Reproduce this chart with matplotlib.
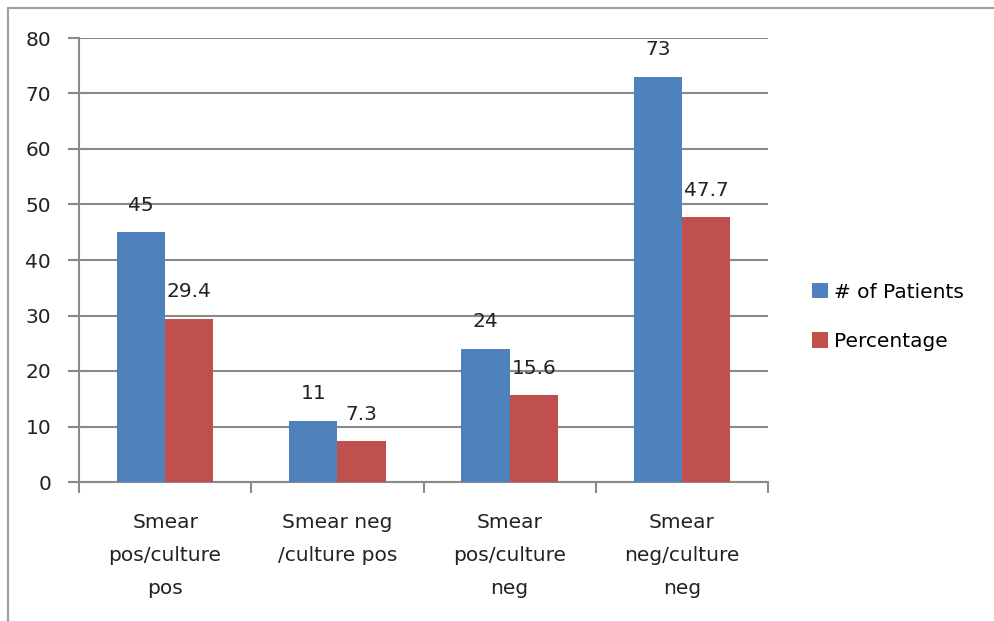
import matplotlib.pyplot as plt
import numpy as np
from matplotlib.patches import Rectangle

# Smear / culture results
categories = ["Smear\npos/culture\npos", "Smear neg\n/culture pos",
              "Smear\npos/culture\nneg", "Smear\nneg/culture\nneg"]
patients = [45, 11, 24, 73]
percentage = [29.4, 7.3, 15.6, 47.7]

blue = "#4F81BD"
red = "#C0504D"
grid_col = "#8A8A8A"
txt_col = "#222222"
fs = 14.5

plt.rcParams['font.family'] = ['DejaVu Sans']

fig = plt.figure(figsize=(9.94, 6.21), dpi=100)
ax = fig.add_axes([79 / 994, 1 - 482 / 621, (768 - 79) / 994, (482 - 38) / 621])

# outer chart frame (only top and left edges fall inside the image)
fig.patches.append(Rectangle((8 / 994, -0.01), 1.05, 1 - 8 / 621 + 0.01,
                             transform=fig.transFigure, fill=False,
                             edgecolor="#A0A0A0", linewidth=1.5))

x = np.arange(len(categories))
w = 0.28
b1 = ax.bar(x - w / 2, patients, w, color=blue, label="# of Patients", zorder=3)
b2 = ax.bar(x + w / 2, percentage, w, color=red, label="Percentage", zorder=3)

for bars, vals in [(b1, patients), (b2, percentage)]:
    for bar, v in zip(bars, vals):
        ax.text(bar.get_x() + bar.get_width() / 2, v + 4.9, f"{v:g}",
                ha="center", va="center", fontsize=fs, color=txt_col)

ax.set_xlim(-0.5, 3.5)
ax.set_ylim(0, 80)
ax.set_yticks(range(0, 81, 10))
ax.yaxis.grid(True, color=grid_col, linewidth=1.5, zorder=0)

ax.set_xticks(x)
ax.set_xticklabels(categories, fontsize=fs, linespacing=1.95, color=txt_col)
ax.set_xticks(np.arange(-0.5, 4, 1), minor=True)
ax.tick_params(axis="x", which="major", length=0, pad=22)
ax.tick_params(axis="x", which="minor", length=8, width=1.5, color=grid_col)
ax.tick_params(axis="y", length=8, width=1.5, color=grid_col, labelsize=fs,
               labelcolor=txt_col, pad=12)

for s in ["top", "right"]:
    ax.spines[s].set_visible(False)
for s in ["left", "bottom"]:
    ax.spines[s].set_color(grid_col)
    ax.spines[s].set_linewidth(1.5)

ax.legend(loc="center left", bbox_to_anchor=(1.064, 0.372), frameon=False,
          fontsize=fs, handlelength=0.8, handleheight=0.8, handletextpad=0.3,
          labelspacing=1.5, borderpad=0, borderaxespad=0)

fig.savefig("out.png", dpi=100)
